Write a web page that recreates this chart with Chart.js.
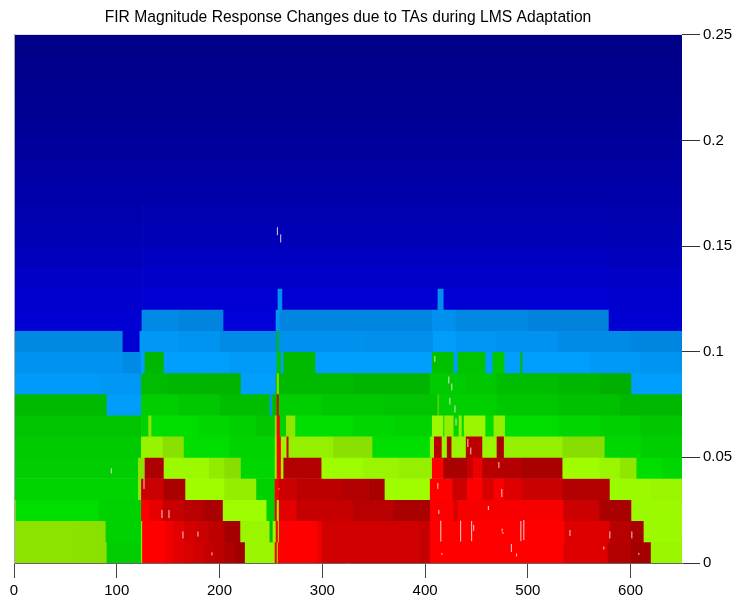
<!DOCTYPE html>
<html>
<head>
<meta charset="utf-8">
<title>FIR Magnitude Response</title>
<script src="https://cdn.jsdelivr.net/npm/chart.js@4/dist/chart.umd.js"></script>
<style>
    body { margin: 0; background: #fff; }
    canvas { display: block; }
</style>
</head>
<body>
<canvas id="myChart" width="736" height="602"></canvas>
<script>
var chartTitle = "FIR Magnitude Response Changes due to TAs during LMS Adaptation";
var bandHeight = 0.01;
var xMax = 650;
var yMax = 0.25;

// each row is one frequency band, bottom to top: [end of run on x, level]
// level: 0-1 navy/blue, 1-2 light blue, 2-3 green, 3-4 yellow green, 4-5 red
var row00 = [[60,3.2],[80,3.15],[90.5,3.1],[124,2.7],[125,3.5],[148,5],[155,4.85],[165,4.7],[175,4.6],[185,4.5],[195,4.4],[205,4.3],[215,4.15],[225,4],[254,3.7],[256,4.9],[257,3.5],[295,5],[300,4.8],[395,4.5],[405,4.4],[535,5],[578,4.65],[600,4.2],[620,4.05],[650,3.75]];
var row01 = [[60,3.2],[80,3.15],[89.5,3.1],[124,2.75],[125,3.5],[148,5],[155,4.85],[165,4.7],[178,4.55],[190,4.45],[205,4.3],[220.5,4.05],[249,3.75],[252,2.5],[255,3.75],[257,4.9],[258,3.5],[295,5],[300,4.8],[395,4.5],[405,4.4],[536,5],[580,4.65],[600,4.25],[613,4.1],[650,3.85]];
var row02 = [[2,3.2],[83,2.95],[124,2.75],[132,4.95],[145,4.75],[165,4.4],[185,4.25],[203.5,4.1],[246,3.9],[254,2.75],[256,4.8],[258,3.6],[275,4.7],[330,4.4],[370,4.25],[405,4.1],[428,4.95],[432,4.6],[535,4.92],[570,4.45],[601,4.1],[650,3.85]];
var row03 = [[121,2.8],[124,3.3],[146,4.45],[167,4.12],[205,3.95],[236,3.5],[254,2.75],[258,4.9],[275,4.45],[320,4.3],[345,4.2],[361,4.1],[405,3.95],[427,5],[441,4.45],[456,5],[467,4.6],[477,4.95],[495,4.65],[534,4.45],[580,4.2],[620,3.85],[650,3.7]];
var row04 = [[121,2.7],[127.5,3.2],[146,4.15],[190,3.85],[205,3.45],[221,3.05],[254,2.85],[256,3.5],[260,5],[262.5,3.7],[299.5,4.2],[340,3.9],[375,3.75],[407,3.55],[418,5],[441,4.1],[447,4.4],[456,4.8],[477,4.25],[495,4.2],[534,4.1],[570,3.95],[590,3.7],[606,3.3],[630,2.95],[650,2.85]];
var row05 = [[124,2.65],[145,3.65],[165.5,3.1],[210,2.95],[254,2.8],[256,3.4],[260,5],[265.5,3.7],[267.5,4.5],[311,3.55],[349,3.1],[405,2.95],[409,3.6],[416.5,4.3],[421.5,3.7],[426,4.2],[440,3.7],[456,4.3],[470,3.7],[477,4.15],[534,3.55],[575,3.05],[610,2.85],[650,2.7]];
var row06 = [[124,2.55],[131,2.75],[134,3.2],[180,2.95],[210,2.85],[235,2.72],[254,2.6],[256,3],[259,5],[265,2.75],[274,3.3],[330,2.95],[370,2.85],[407,2.78],[418,3.8],[419,2.8],[428,3.5],[433,2.85],[436,3.5],[438,2.85],[459,3.7],[467,2.9],[478,3.5],[530,2.95],[570,2.85],[610,2.72],[650,2.6]];
var row07 = [[90.5,2.4],[124,1.9],[160,2.7],[200,2.6],[249,2.45],[251.5,1.7],[256,2.4],[258,4.7],[300,2.7],[360,2.62],[412.5,2.55],[413.5,3],[470,2.72],[530,2.62],[590,2.5],[650,2.37]];
var row08 = [[84,1.85],[124,1.75],[150,2.42],[180,2.36],[221,2.3],[255,1.95],[256,2.4],[258,3.1],[330,2.4],[405,2.33],[440,2.65],[470,2.6],[530,2.45],[570,2.35],[601,2.25],[650,1.95]];
var row09 = [[106,1.6],[124,1.35],[127.5,1.95],[146,2.35],[210,1.95],[254,1.85],[256,1.9],[260,2.55],[262.5,1.9],[293.5,2.4],[407,1.95],[428,2.5],[432,1.9],[459,2.55],[466,1.95],[477.5,2.6],[493,1.95],[495,2.4],[560,1.95],[610,1.8],[650,1.65]];
var row10 = [[106,1.3],[122.5,0.85],[160,1.75],[200,1.65],[256,1.4],[258,2.5],[340,1.55],[408,1.5],[430,1.9],[470,1.7],[530,1.6],[600,1.4],[650,1.25]];
var row11 = [[124.5,0.85],[160,1.35],[204,1.2],[255,0.92],[258.5,1.7],[407,1.25],[430,1.55],[500,1.3],[579,1.15],[650,0.85]];
var row12 = [[125,0.8],[256.8,0.87],[261.3,1.5],[412.5,0.87],[418.3,1.5],[580,0.87],[650,0.8]];
var row13 = [[125,0.72],[580,0.77],[650,0.72]];
var row14 = [[125,0.62],[580,0.66],[650,0.62]];
var row15 = [[125,0.53],[580,0.56],[650,0.53]];
var row16 = [[125,0.47],[580,0.49],[650,0.47]];
var row17 = [[650,0.42]];
var row18 = [[650,0.37]];
var row19 = [[650,0.3]];
var row20 = [[650,0.24]];
var row21 = [[650,0.18]];
var row22 = [[650,0.14]];
var row23 = [[650,0.1]];
var row24 = [[650,0.07]];
var rows = [row00, row01, row02, row03, row04, row05, row06, row07, row08, row09, row10, row11, row12,
    row13, row14, row15, row16, row17, row18, row19, row20, row21, row22, row23, row24];

// small pale marks: x, y centre, y length
var speckX = [94.7, 126.5, 144, 150.8, 164.4, 179, 192.6, 257.8, 409.5, 423.1, 426, 412.4, 413.4, 415.3, 416.3, 424.1, 429.1, 430.1, 441.6, 444.5, 471.8, 474.7, 493.2, 496.1, 541, 573.9, 461.6, 434.6, 445.3, 447.3, 475, 475.7, 484, 489, 579.8, 601.2, 608, 256.3, 259.5];
var speckY = [0.0436, 0.0374, 0.0232, 0.0232, 0.0133, 0.0137, 0.0043, 0.0350, 0.0966, 0.0866, 0.0833, 0.0365, 0.0242, 0.0151, 0.0043, 0.0766, 0.0729, 0.0668, 0.0568, 0.0530, 0.0464, 0.0331, 0.0151, 0.0156, 0.0142, 0.0071, 0.0260, 0.0151, 0.0151, 0.0166, 0.0156, 0.0142, 0.0071, 0.0038, 0.0133, 0.0133, 0.0043, 0.1570, 0.1536];
var speckLen = [0.0024, 0.0047, 0.0038, 0.0038, 0.0033, 0.0024, 0.0014, 0.0005, 0.0028, 0.0033, 0.0033, 0.0028, 0.0019, 0.0099, 0.0009, 0.0033, 0.0033, 0.0033, 0.0038, 0.0033, 0.0028, 0.0038, 0.0095, 0.0095, 0.0028, 0.0014, 0.0019, 0.0099, 0.0095, 0.0028, 0.0014, 0.0009, 0.0038, 0.0014, 0.0033, 0.0033, 0.0009, 0.0038, 0.0038];

var levelLow = [[0, 0, 130], [0, 125, 215], [0, 160, 0], [135, 220, 0], [160, 0, 0]];
var levelHigh = [[0, 0, 225], [0, 160, 255], [0, 225, 0], [160, 255, 0], [255, 0, 0]];

function levelColor(level) {
    var band = Math.min(4, Math.floor(level));
    var t = level - band;
    var c = [0, 1, 2].map(function (i) {
        return Math.round(levelLow[band][i] + (levelHigh[band][i] - levelLow[band][i]) * t);
    });
    return "rgb(" + c.join(",") + ")";
}

var cells = [];
var cellColors = [];
for (var r = 0; r < rows.length; r++) {
    var start = 0;
    for (var i = 0; i < rows[r].length; i++) {
        cells.push({ y: (r + 0.5) * bandHeight, x: [start, rows[r][i][0]] });
        cellColors.push(levelColor(rows[r][i][1]));
        start = rows[r][i][0];
    }
}

var specks = [];
for (var s = 0; s < speckX.length; s++) {
    specks.push({ x: speckX[s], y: speckY[s] - speckLen[s] / 2 });
    specks.push({ x: speckX[s], y: speckY[s] + speckLen[s] / 2 });
    specks.push({ x: NaN, y: NaN });
}

var tickFont = { family: "'Liberation Sans', Arial, sans-serif", size: 15 };

new Chart(document.getElementById("myChart"), {
    type: "bar",
    data: {
        datasets: [{
            type: "line",
            data: specks,
            borderColor: "rgba(255, 225, 225, 0.9)",
            borderWidth: 1,
            pointRadius: 0,
            spanGaps: false,
            order: 0
        }, {
            indexAxis: "y",
            data: cells,
            backgroundColor: cellColors,
            borderWidth: 0,
            barPercentage: 1,
            categoryPercentage: 1,
            grouped: false,
            order: 1
        }]
    },
    options: {
        responsive: false,
        animation: false,
        layout: { padding: { left: 14 } },
        plugins: {
            legend: { display: false },
            tooltip: { enabled: false },
            title: {
                display: true,
                text: chartTitle,
                fullSize: false,
                color: "#000",
                font: { family: "'Liberation Sans', Arial, sans-serif", size: 15.65, weight: "normal" },
                padding: { top: 8, bottom: 8 }
            }
        },
        scales: {
            x: {
                type: "linear",
                position: "bottom",
                min: 0,
                max: xMax,
                offset: false,
                afterFit: function (axis) { axis.height = 39; },
                grid: { offset: false, drawOnChartArea: false, tickLength: 15, tickColor: "#444" },
                border: { color: "#666", z: 1 },
                ticks: { stepSize: 100, color: "#000", font: tickFont, padding: 4, maxRotation: 0, includeBounds: false }
            },
            y: {
                type: "linear",
                position: "right",
                min: 0,
                max: yMax,
                offset: false,
                afterFit: function (axis) { axis.width = 54; },
                grid: { offset: false, drawOnChartArea: false, tickLength: 18, tickColor: "#333" },
                border: { display: false },
                ticks: {
                    stepSize: 0.05,
                    color: "#000",
                    font: tickFont,
                    padding: 3,
                    callback: function (v) { return String(Number(v.toFixed(2))); }
                }
            },
            yEdge: {
                type: "linear",
                position: "left",
                min: 0,
                max: yMax,
                afterFit: function (axis) { axis.width = 0; },
                grid: { display: false },
                border: { color: "#aaa", dash: [1, 1], z: 1 },
                ticks: { display: false }
            }
        }
    }
});
</script>
</body>
</html>
